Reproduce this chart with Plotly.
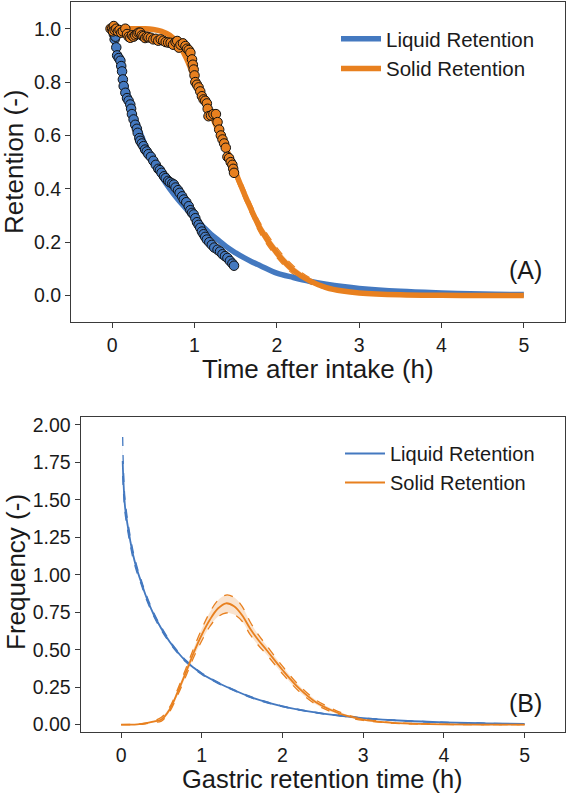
import plotly.graph_objects as go

# ---------------- data ----------------
# Panel A: observed retention
LIQ_OBS_T = [0.0, 0.01, 0.02, 0.03, 0.04, 0.05, 0.06, 0.08, 0.10, 0.11, 0.12, 0.13, 0.14, 0.16, 0.18,
             0.20, 0.22, 0.23, 0.24, 0.26, 0.28, 0.30, 0.31, 0.33, 0.34, 0.36, 0.38, 0.40, 0.42, 0.44,
             0.47, 0.50, 0.53, 0.56, 0.58, 0.60, 0.63, 0.65, 0.68, 0.70, 0.73, 0.75, 0.77, 0.80, 0.82,
             0.85, 0.87, 0.90, 0.93, 0.95, 0.97, 0.99, 1.01, 1.03, 1.05, 1.07, 1.09, 1.11, 1.13, 1.15,
             1.18, 1.21, 1.24, 1.28, 1.31, 1.34, 1.37, 1.40, 1.43, 1.46, 1.48]
LIQ_OBS_R = [1.00, 0.99, 0.98, 0.96, 0.97, 0.93, 0.90, 0.89, 0.88, 0.86, 0.84, 0.81, 0.785, 0.76, 0.74,
             0.73, 0.716, 0.70, 0.68, 0.66, 0.64, 0.625, 0.61, 0.59, 0.58, 0.57, 0.56, 0.547, 0.54, 0.53,
             0.52, 0.505, 0.49, 0.475, 0.47, 0.46, 0.447, 0.44, 0.43, 0.425, 0.42, 0.416, 0.405, 0.395, 0.385,
             0.372, 0.36, 0.35, 0.335, 0.32, 0.31, 0.304, 0.29, 0.275, 0.265, 0.254, 0.24, 0.23, 0.22, 0.21,
             0.20, 0.19, 0.18, 0.172, 0.165, 0.155, 0.148, 0.141, 0.13, 0.12, 0.112]

SOL_OBS_T = [-0.02, 0.0, 0.01, 0.02, 0.03, 0.05, 0.07, 0.09, 0.11, 0.13, 0.16, 0.18, 0.20, 0.22, 0.24, 0.26,
             0.28, 0.30, 0.32, 0.34, 0.36, 0.38, 0.40, 0.42, 0.44, 0.47, 0.50, 0.53, 0.56, 0.59, 0.62,
             0.65, 0.68, 0.71, 0.74, 0.77, 0.79, 0.81, 0.83, 0.86, 0.89, 0.91, 0.93, 0.95, 0.97, 0.98,
             0.99, 1.00, 1.01, 1.03, 1.05, 1.07, 1.09, 1.11, 1.13, 1.15, 1.16, 1.17, 1.20, 1.23, 1.26,
             1.28, 1.30, 1.32, 1.34, 1.36, 1.38, 1.40, 1.42, 1.44, 1.46, 1.47, 1.48]
SOL_OBS_R = [1.00, 1.00, 0.99, 1.01, 0.995, 1.00, 0.99, 0.995, 0.985, 0.99, 1.00, 0.98, 0.97, 0.966, 0.975, 0.97,
             0.975, 0.98, 0.985, 0.985, 0.975, 0.972, 0.965, 0.97, 0.968, 0.966, 0.96, 0.962, 0.955, 0.96, 0.955,
             0.95, 0.948, 0.947, 0.94, 0.95, 0.954, 0.929, 0.94, 0.945, 0.935, 0.925, 0.92, 0.91, 0.885, 0.865,
             0.847, 0.825, 0.80, 0.79, 0.78, 0.765, 0.747, 0.735, 0.73, 0.72, 0.70, 0.672, 0.675, 0.68, 0.68,
             0.65, 0.622, 0.60, 0.585, 0.57, 0.554, 0.52, 0.515, 0.50, 0.49, 0.475, 0.46]

# Panel A: fitted retention curves
FIT_T = [0.0, 0.1, 0.2, 0.3, 0.4, 0.5, 0.6, 0.7, 0.8, 0.9, 1.0, 1.1, 1.2, 1.3, 1.4, 1.5, 1.6, 1.7, 1.8,
         2.0, 2.2, 2.4, 2.6, 2.8, 3.0, 3.5, 4.0, 4.5, 5.0]
LIQ_FIT = [1.0, 0.86, 0.745, 0.645, 0.565, 0.50, 0.445, 0.40, 0.36, 0.325, 0.29, 0.26, 0.23, 0.205, 0.18,
           0.16, 0.142, 0.126, 0.112, 0.084, 0.068, 0.054, 0.043, 0.034, 0.027, 0.016, 0.010, 0.006, 0.004]
SOL_FIT = [1.0, 1.0, 1.0, 1.0, 1.0, 0.997, 0.99, 0.975, 0.945, 0.89, 0.815, 0.745, 0.68, 0.61, 0.54,
           0.46, 0.385, 0.315, 0.25, 0.16, 0.095, 0.055, 0.03, 0.017, 0.010, 0.003, 0.001, 0.0003, 0.0]
SOL_BAND_T = [1.5, 1.6, 1.7, 1.8, 2.0, 2.2, 2.4, 2.6, 2.8, 3.0]
SOL_BAND_UP = [0.48, 0.405, 0.335, 0.272, 0.18, 0.112, 0.067, 0.038, 0.022, 0.013]
SOL_BAND_LO = [0.44, 0.365, 0.295, 0.23, 0.142, 0.08, 0.045, 0.024, 0.013, 0.007]

# Panel B: gastric retention time distributions
LIQ_PDF_T = [0.02, 0.03, 0.05, 0.1, 0.15, 0.2, 0.25, 0.3, 0.4, 0.5, 0.6, 0.7, 0.8, 0.9, 1.0, 1.2, 1.4,
             1.6, 1.8, 2.0, 2.25, 2.5, 2.75, 3.0, 3.5, 4.0, 4.5, 5.0]
LIQ_PDF = [1.76, 1.62, 1.45, 1.27, 1.13, 1.03, 0.95, 0.87, 0.74, 0.64, 0.555, 0.485, 0.425, 0.38, 0.34,
           0.28, 0.23, 0.185, 0.15, 0.122, 0.095, 0.074, 0.057, 0.044, 0.026, 0.015, 0.009, 0.005]
LIQ_PDF_UP = [1.92, 1.70, 1.50, 1.30, 1.155, 1.05, 0.965, 0.885, 0.752, 0.65, 0.563, 0.492, 0.431, 0.385,
              0.345, 0.284, 0.233, 0.188, 0.153, 0.124, 0.097, 0.076, 0.058, 0.045, 0.027, 0.016, 0.0095, 0.0055]
LIQ_PDF_LO = [1.66, 1.55, 1.41, 1.24, 1.105, 1.01, 0.935, 0.855, 0.728, 0.63, 0.547, 0.478, 0.419, 0.375,
              0.335, 0.276, 0.227, 0.182, 0.147, 0.12, 0.093, 0.072, 0.056, 0.043, 0.025, 0.014, 0.0085, 0.0045]

SOL_PDF_T = [0.0, 0.2, 0.3, 0.4, 0.5, 0.6, 0.7, 0.8, 0.9, 1.0, 1.1, 1.2, 1.3, 1.4, 1.5, 1.6, 1.7, 1.8,
             2.0, 2.2, 2.4, 2.6, 2.8, 3.0, 3.25, 3.5, 4.0, 4.5, 5.0]
SOL_PDF = [0.0, 0.002, 0.008, 0.02, 0.035, 0.10, 0.215, 0.345, 0.48, 0.60, 0.70, 0.775, 0.81, 0.79, 0.73,
           0.64, 0.565, 0.50, 0.365, 0.245, 0.155, 0.098, 0.058, 0.034, 0.017, 0.008, 0.002, 0.0005, 0.0]
SOL_PDF_UP = [0.0, 0.003, 0.01, 0.025, 0.05, 0.115, 0.235, 0.37, 0.51, 0.64, 0.75, 0.83, 0.865, 0.85, 0.79,
              0.685, 0.60, 0.53, 0.39, 0.265, 0.17, 0.11, 0.066, 0.04, 0.02, 0.01, 0.003, 0.001, 0.0]
SOL_PDF_LO = [0.0, 0.001, 0.006, 0.015, 0.024, 0.085, 0.195, 0.32, 0.45, 0.56, 0.655, 0.72, 0.745, 0.735, 0.69,
              0.60, 0.53, 0.47, 0.34, 0.225, 0.14, 0.086, 0.05, 0.028, 0.014, 0.006, 0.0015, 0.0003, 0.0]

SERIES = ["Liquid Retention", "Solid Retention"]
X_TICKS = [0, 1, 2, 3, 4, 5]

# ---------------- styling ----------------
BLUE = "#4479C0"
ORANGE = "#E8801F"
BLUE_FILL = "rgba(68,121,192,0.22)"
ORANGE_FILL = "rgba(232,128,31,0.22)"
FONT = "Liberation Sans, Arial, sans-serif"
TXT = "#1a1a1a"
AX = "#3a3a3a"
W, H = 566, 794

fig = go.Figure()

def band(x, lo, up, color, fill, xa, ya, width=1.4):
    fig.add_trace(go.Scatter(x=x, y=lo, mode="lines", line=dict(color=color, width=width, dash="dash", shape="spline"),
                             showlegend=False, hoverinfo="skip", xaxis=xa, yaxis=ya))
    fig.add_trace(go.Scatter(x=x, y=up, mode="lines", line=dict(color=color, width=width, dash="dash", shape="spline"),
                             fill="tonexty", fillcolor=fill, showlegend=False, hoverinfo="skip", xaxis=xa, yaxis=ya))

# Panel A
band(SOL_BAND_T, SOL_BAND_LO, SOL_BAND_UP, ORANGE, ORANGE_FILL, "x", "y", 1.2)
fig.add_trace(go.Scatter(x=FIT_T, y=LIQ_FIT, mode="lines", name=SERIES[0],
                         line=dict(color=BLUE, width=5.5, shape="spline"), legend="legend"))
fig.add_trace(go.Scatter(x=FIT_T, y=SOL_FIT, mode="lines", name=SERIES[1],
                         line=dict(color=ORANGE, width=5.5, shape="spline"), legend="legend"))
fig.add_trace(go.Scatter(x=LIQ_OBS_T, y=LIQ_OBS_R, mode="markers", showlegend=False,
                         marker=dict(color=BLUE, size=9.5, line=dict(color="#111111", width=1))))
fig.add_trace(go.Scatter(x=SOL_OBS_T, y=SOL_OBS_R, mode="markers", showlegend=False,
                         marker=dict(color=ORANGE, size=9.5, line=dict(color="#111111", width=1))))

# Panel B
band(LIQ_PDF_T, LIQ_PDF_LO, LIQ_PDF_UP, BLUE, BLUE_FILL, "x2", "y2", 1.3)
band(SOL_PDF_T, SOL_PDF_LO, SOL_PDF_UP, ORANGE, ORANGE_FILL, "x2", "y2", 1.3)
fig.add_trace(go.Scatter(x=LIQ_PDF_T, y=LIQ_PDF, mode="lines", name=SERIES[0],
                         line=dict(color=BLUE, width=1.8, shape="spline"), xaxis="x2", yaxis="y2", legend="legend2"))
fig.add_trace(go.Scatter(x=SOL_PDF_T, y=SOL_PDF, mode="lines", name=SERIES[1],
                         line=dict(color=ORANGE, width=1.8, shape="spline"), xaxis="x2", yaxis="y2", legend="legend2"))

axis_common = dict(showline=True, mirror=True, linecolor=AX, linewidth=1.2, ticks="outside", ticklen=5,
                   tickwidth=1.2, tickcolor=AX, showgrid=False, zeroline=False, automargin=False,
                   tickfont=dict(family=FONT, size=19.5, color=TXT))

fig.update_layout(
    width=W, height=H, template="none",
    paper_bgcolor="white", plot_bgcolor="white",
    margin=dict(l=0, r=0, t=0, b=0),
    font=dict(family=FONT, color=TXT),
    xaxis=dict(domain=[71 / W, 565 / W], anchor="y", range=[-0.5, 5.5], tickvals=X_TICKS, **axis_common),
    yaxis=dict(domain=[(H - 322.3) / H, (H - 2) / H], anchor="x", range=[-0.1, 1.1],
               tickvals=[0, 0.2, 0.4, 0.6, 0.8, 1.0], tickformat=".1f", **axis_common),
    xaxis2=dict(domain=[80.7 / W, 565 / W], anchor="y2", range=[-0.5, 5.5], tickvals=X_TICKS, **axis_common),
    yaxis2=dict(domain=[(H - 732.3) / H, (H - 417.3) / H], anchor="x2", range=[-0.051, 2.051],
                tickvals=[0, 0.25, 0.5, 0.75, 1.0, 1.25, 1.5, 1.75, 2.0], tickformat=".2f", **axis_common),
    legend=dict(x=336 / W, y=1 - 19 / H, xanchor="left", yanchor="top", bgcolor="rgba(0,0,0,0)",
                font=dict(family=FONT, size=20.5, color=TXT), tracegroupgap=0, traceorder="normal",
                itemwidth=40),
    legend2=dict(x=340 / W, y=1 - 434 / H, xanchor="left", yanchor="top", bgcolor="rgba(0,0,0,0)",
                 font=dict(family=FONT, size=20, color=TXT), tracegroupgap=0, traceorder="normal",
                 itemwidth=40),
    annotations=[
        dict(text="Retention (-)", x=14 / W, y=1 - 162 / H, xref="paper", yref="paper", textangle=-90,
             showarrow=False, font=dict(family=FONT, size=26, color=TXT), xanchor="center", yanchor="middle"),
        dict(text="Time after intake (h)", x=318 / W, y=1 - 369 / H, xref="paper", yref="paper",
             showarrow=False, font=dict(family=FONT, size=26, color=TXT), xanchor="center", yanchor="middle"),
        dict(text="Frequency (-)", x=16 / W, y=1 - 572 / H, xref="paper", yref="paper", textangle=-90,
             showarrow=False, font=dict(family=FONT, size=26, color=TXT), xanchor="center", yanchor="middle"),
        dict(text="Gastric retention time (h)", x=323 / W, y=1 - 778.5 / H, xref="paper", yref="paper",
             showarrow=False, font=dict(family=FONT, size=25.5, color=TXT), xanchor="center", yanchor="middle"),
        dict(text="(A)", x=525 / W, y=1 - 270 / H, xref="paper", yref="paper",
             showarrow=False, font=dict(family=FONT, size=25, color=TXT), xanchor="center", yanchor="middle"),
        dict(text="(B)", x=525 / W, y=1 - 703 / H, xref="paper", yref="paper",
             showarrow=False, font=dict(family=FONT, size=25, color=TXT), xanchor="center", yanchor="middle"),
    ],
)

fig.write_html("out.html", config={"displayModeBar": False},
               post_script="document.body.style.margin='0';document.body.style.overflow='hidden';")
